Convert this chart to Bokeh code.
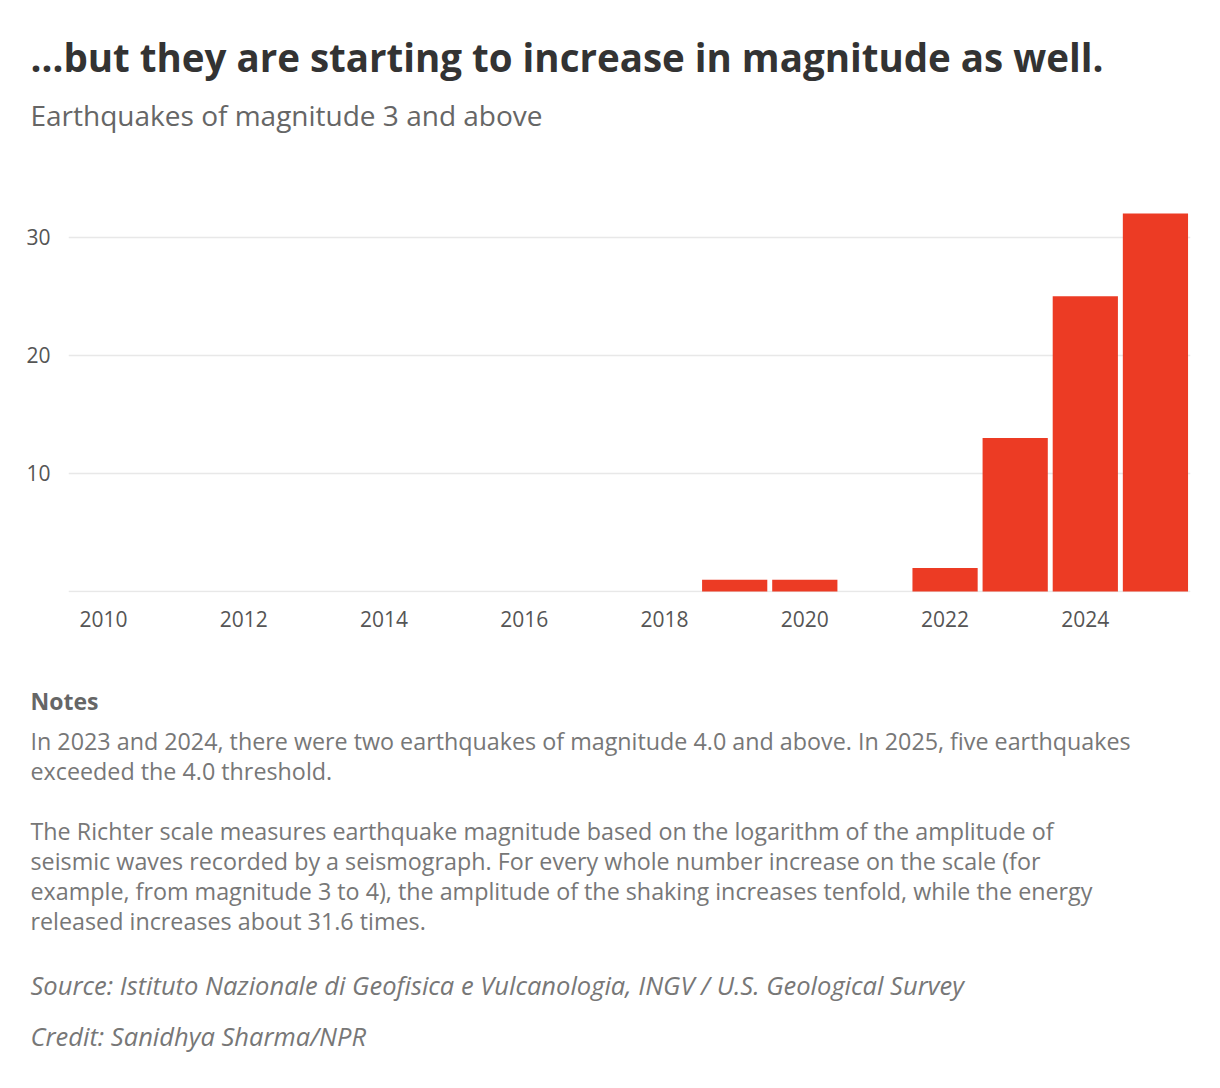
from bokeh.plotting import figure
from bokeh.models import ColumnDataSource, FixedTicker, Title
from bokeh.embed import file_html
from bokeh.resources import INLINE

# earthquakes of magnitude 3+ per year
years = list(range(2010, 2026))
counts = [0, 0, 0, 0, 0, 0, 0, 0, 0, 1, 1, 0, 2, 13, 25, 32]

x_ticks = [2010, 2012, 2014, 2016, 2018, 2020, 2022, 2024]
y_ticks = [0, 10, 20, 30]

title = "\u2026but they are starting to increase in magnitude as well."
subtitle = "Earthquakes of magnitude 3 and above"
notes_head = "Notes"
notes_1 = [
    "In 2023 and 2024, there were two earthquakes of magnitude 4.0 and above. In 2025, five earthquakes",
    "exceeded the 4.0 threshold.",
]
notes_2 = [
    "The Richter scale measures earthquake magnitude based on the logarithm of the amplitude of",
    "seismic waves recorded by a seismograph. For every whole number increase on the scale (for",
    "example, from magnitude 3 to 4), the amplitude of the shaking increases tenfold, while the energy",
    "released increases about 31.6 times.",
]
source_txt = "Source: Istituto Nazionale di Geofisica e Vulcanologia, INGV / U.S. Geological Survey"
credit_txt = "Credit: Sanidhya Sharma/NPR"

FONT = "Open Sans"
RED = "#ec3b24"

src = ColumnDataSource(data=dict(year=years, count=counts))

p = figure(width=1204, height=1072, x_range=(2009.5, 2025.5), y_range=(-0.08, 33.1),
           output_backend="svg", toolbar_location=None, tools="",
           min_border_left=68, min_border_right=14, min_border_top=200,
           min_border_bottom=480)
p.outline_line_color = None
p.background_fill_color = "white"
p.border_fill_color = "white"

p.vbar(x="year", top="count", width=0.93, source=src, fill_color=RED, line_color=None)

# axes
p.xaxis.ticker = FixedTicker(ticks=x_ticks)
p.yaxis.ticker = FixedTicker(ticks=y_ticks)
p.yaxis.major_label_overrides = {0: ""}
for ax in (p.xaxis, p.yaxis):
    ax.axis_line_color = None
    ax.major_tick_line_color = None
    ax.minor_tick_line_color = None
    ax.major_label_text_font = FONT
    ax.major_label_text_font_size = "21px"
    ax.major_label_text_color = "#555555"
p.xaxis.major_label_standoff = 12
p.yaxis.major_label_standoff = 12

p.xgrid.grid_line_color = None
p.ygrid.grid_line_color = "#e8e8e8"
p.ygrid.grid_line_width = 1.5


def add_text(txt, place, size, color, style="normal", standoff=-4):
    p.add_layout(Title(text=txt, align="left", offset=-38, standoff=standoff,
                       text_font=FONT, text_font_size=size, text_color=color,
                       text_font_style=style), place)


def gap(place, px):
    p.add_layout(Title(text=" ", text_font_size="1px", standoff=px), place)


# above: first one added sits nearest the plot
gap("above", 64)
add_text(subtitle, "above", "28px", "#666666", standoff=0)
gap("above", 8)
add_text(title, "above", "38.5px", "#333333", "bold", standoff=0)

# below: stacked under the x axis
gap("below", 52)
add_text(notes_head, "below", "23px", "#666666", "bold")
gap("below", 7)
for line in notes_1:
    add_text(line, "below", "23.3px", "#777777")
gap("below", 27)
for line in notes_2:
    add_text(line, "below", "23.3px", "#777777")
gap("below", 31)
add_text(source_txt, "below", "25.5px", "#777777", "italic", standoff=-5)
gap("below", 17)
add_text(credit_txt, "below", "25.5px", "#777777", "italic", standoff=-5)

open("out.html", "w").write(file_html(p, INLINE))
